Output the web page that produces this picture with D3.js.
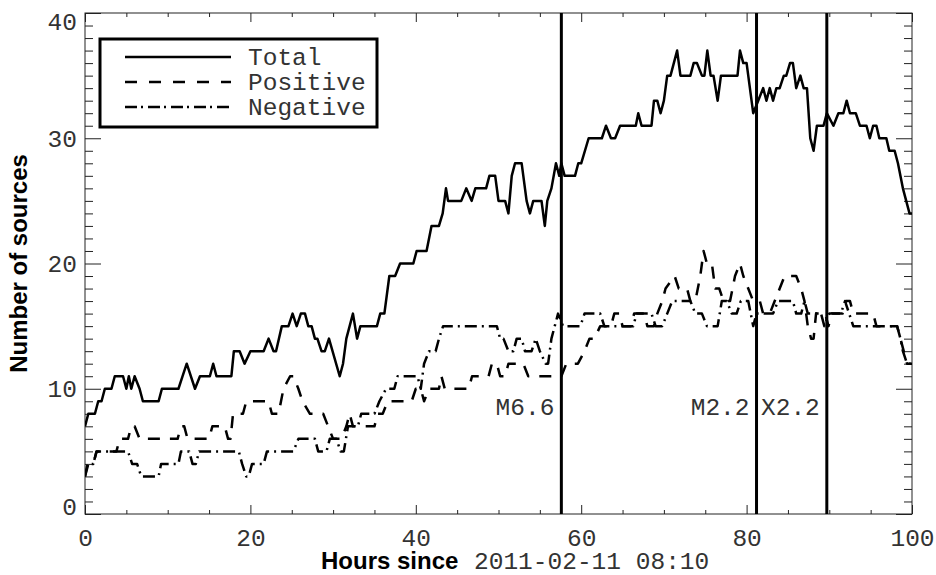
<!DOCTYPE html>
<html><head><meta charset="utf-8">
<script src="https://cdn.jsdelivr.net/npm/d3@7"></script>
<style>
body{margin:0;background:#fff;}
svg{display:block;}
</style></head>
<body>
<svg id="chart" width="936" height="575"></svg>
<script>
// ---- data (hours since start, number of sources) ----
const totalSeries = [[0,7],[0.4,8],[1.2,8],[1.6,9],[2.0,9],[2.4,10],[3.2,10],[3.6,11],[4.6,11],[5.0,10],[5.3,11],[5.6,10],[6.0,11],[6.6,10],[7.0,9],[8.9,9],[9.3,10],[11.3,10],[11.8,11],[12.3,12],[13.3,10],[13.9,11],[15.1,11],[15.5,12],[15.9,11],[17.7,11],[18.0,13],[18.7,13],[19.3,12],[20.0,13],[21.6,13],[22.2,14],[22.8,13],[23.1,13],[23.8,15],[24.6,15],[25.1,16],[25.6,15],[26.1,16],[26.6,16],[27.0,15],[27.4,15],[27.8,14],[28.1,14],[28.6,13],[29.0,13],[29.5,14],[30.8,11],[31.2,12],[31.6,14],[32.4,16],[32.9,14],[33.3,15],[35.3,15],[35.7,16],[36.2,16],[36.8,19],[37.5,19],[38.1,20],[39.7,20],[40.1,21],[41.3,21],[41.9,23],[42.8,23],[43.25,24],[43.65,26],[43.9,25],[45.5,25],[46.1,26],[46.75,25],[47.2,26],[48.5,26],[48.9,27],[49.6,27],[50.0,25],[50.8,25],[51.2,24],[51.6,27],[52.0,28],[52.8,28],[53.4,25],[53.8,24],[54.2,25],[55.2,25],[55.6,23],[55.9,25],[56.4,26],[56.95,28],[57.35,27],[57.6,28],[58.0,27],[59.25,27],[59.65,28],[60.0,28],[60.9,30],[62.5,30],[63.0,31],[63.6,30],[64.1,30],[64.7,31],[66.6,31],[66.9,32],[67.3,31],[68.5,31],[68.8,33],[69.2,33],[69.6,32],[70.0,33],[70.4,35],[70.8,35],[71.6,37],[72.0,35],[73.2,35],[73.6,36],[74.0,36],[74.6,35],[74.9,35],[75.25,37],[75.65,35],[76.0,35],[76.5,33],[76.9,35],[78.9,35],[79.2,37],[79.6,36],[80.0,36],[80.8,32],[81.4,33],[82.0,34],[82.4,33],[82.8,34],[83.2,33],[83.6,34],[84.0,34],[84.5,35],[84.8,35],[85.25,36],[85.6,36],[86.0,34],[86.5,35],[86.9,34],[87.3,34],[87.7,30],[88.1,29],[88.5,31],[89.3,31],[89.7,32],[90.5,31],[91.1,32],[91.7,32],[92.1,33],[92.5,32],[93.2,32],[93.7,31],[94.5,31],[94.9,30],[95.3,31],[95.7,31],[96.05,30],[96.9,30],[97.25,29],[97.9,29],[98.3,28],[98.9,26],[99.7,24],[100,24]];

const positiveSeries = [[0,3],[0.4,4],[1.0,4],[1.4,5],[3.8,5],[4.2,6],[5.2,6],[5.6,7],[6.0,7],[6.6,6],[11.2,6],[11.6,7],[12.0,7],[12.4,6],[15.0,6],[15.4,7],[16.9,7],[17.3,6],[17.6,6],[17.9,8],[19.1,8],[19.5,9],[22.2,9],[22.6,8],[23.4,8],[24.0,10],[24.8,11],[25.2,11],[25.8,10],[26.3,9],[27.2,8],[28.8,8],[29.4,7],[30.0,6],[31.0,6],[31.6,7],[32.0,8],[32.4,7],[35.0,7],[35.4,8],[36.0,8],[36.6,9],[39.5,9],[40.0,10],[40.6,10],[41.0,9],[41.6,10],[42.8,10],[43.1,11],[43.5,10],[46.4,10],[46.8,11],[48.8,11],[49.2,12],[49.8,12],[50.2,11],[50.8,11],[51.2,12],[53.0,12],[53.6,11],[57.6,11],[58.2,12],[59.6,12],[60.4,13],[61.0,14],[61.6,14],[62.3,15],[63.6,15],[64.0,16],[64.6,16],[65.0,15],[66.0,15],[66.4,16],[67.6,16],[68.0,15],[68.8,15],[69.2,16],[69.8,17],[70.2,18],[71.3,19],[71.8,18],[72.8,18],[73.2,17],[73.8,17],[74.4,19],[74.8,21],[75.2,20],[75.8,20],[76.2,18],[76.7,18],[77.2,17],[78.0,17],[78.6,19],[79.2,20],[79.6,19],[80.2,18],[80.8,17],[81.6,17],[82.0,16],[82.8,16],[83.4,17],[84.0,18],[84.6,19],[86.0,19],[86.6,18],[87.0,17],[87.4,15],[87.8,14],[88.1,14],[88.4,16],[89.5,16],[89.9,15],[90.3,16],[91.6,16],[92.0,17],[92.5,17],[92.9,16],[95.3,16],[95.7,15],[98.2,15],[98.6,14],[99.0,13],[99.4,12],[100,12]];

const negativeSeries = [[0,3],[0.3,4],[1.0,4],[1.4,5],[5.2,5],[5.7,4],[6.3,4],[6.8,3],[8.9,3],[9.2,4],[11.3,4],[11.6,5],[12.6,5],[13.0,4],[13.4,4],[13.8,5],[18.6,5],[19.0,4],[19.5,3],[19.8,3],[20.2,4],[21.6,4],[22.0,5],[25.2,5],[25.8,6],[27.8,6],[28.2,5],[29.2,5],[29.6,6],[30.4,6],[30.9,5],[31.3,5],[31.8,7],[33.0,7],[33.4,8],[35.0,8],[35.6,9],[36.4,10],[37.4,10],[37.8,11],[40.2,11],[40.6,10],[41.0,12],[41.6,13],[42.4,13],[42.8,14],[43.3,15],[49.8,15],[50.2,14],[50.6,14],[51.2,13],[51.8,13],[52.2,14],[52.8,14],[53.2,13],[54.0,13],[54.5,14],[55.0,13],[55.7,12],[56.0,12],[56.4,14],[56.8,15],[57.2,16],[57.8,15],[59.9,15],[60.4,16],[62.3,16],[62.8,15],[66.3,15],[66.7,16],[68.5,16],[69.0,15],[69.8,15],[70.4,16],[71.0,17],[73.2,17],[73.8,16],[74.6,16],[75.2,15],[76.5,15],[77.0,17],[77.6,17],[78.2,16],[78.8,16],[79.3,17],[80.2,17],[80.8,15],[81.2,16],[83.2,16],[83.8,17],[85.6,17],[86.0,16],[86.6,16],[87.0,17],[87.4,16],[89.0,16],[89.4,15],[90.0,16],[91.4,16],[91.9,17],[92.4,16],[92.9,15],[98.2,15],[98.6,14],[98.9,13],[99.4,12],[100,12]];

const flareHours = [57.6, 81.2, 89.7];
const flareLabels = ["M6.6", "M2.2", "X2.2"];
const flareLabelLevel = 8.55;
const legendNames = ["Total", "Positive", "Negative"];
const xMajorTicks = [0, 20, 40, 60, 80, 100];
const xMinorTicks = [5,10,15,25,30,35,45,50,55,65,70,75,85,90,95];
const yMajorTicks = [0, 10, 20, 30, 40];
const yMinorTicks = d3.range(1, 40).filter(v => v % 10 !== 0);

// ---- layout ----
const svg = d3.select("#chart");
const L = 85, R = 912, T = 13, B = 514;
const x = d3.scaleLinear().domain([0, 100]).range([L, R]);
const y = d3.scaleLinear().domain([0, 40]).range([B, T]);
const mono = "'Liberation Mono','Courier New',monospace";
const sans = "'Liberation Sans',Arial,Helvetica,sans-serif";
const fs = 24.5;
const textColor = "#333";
const axisColor = "#222";

function styleAxis(g) {
  g.select(".domain").remove();
  g.selectAll(".tick line").attr("stroke", axisColor).attr("stroke-width", 1);
  g.selectAll(".tick text").attr("font-family", mono).attr("font-size", fs).attr("fill", textColor);
}

// bottom axis with labels
svg.append("g").attr("transform", `translate(0,${B})`)
  .call(d3.axisBottom(x).tickValues(xMajorTicks).tickSizeInner(-9).tickSizeOuter(0).tickPadding(15).tickFormat(d3.format("d")))
  .call(styleAxis);
svg.append("g").attr("transform", `translate(0,${B})`)
  .call(d3.axisBottom(x).tickValues(xMinorTicks).tickSizeInner(-4).tickSizeOuter(0).tickFormat(""))
  .call(styleAxis);
// top axis ticks
svg.append("g").attr("transform", `translate(0,${T})`)
  .call(d3.axisTop(x).tickValues(xMajorTicks).tickSizeInner(-9).tickSizeOuter(0).tickFormat(""))
  .call(styleAxis);
svg.append("g").attr("transform", `translate(0,${T})`)
  .call(d3.axisTop(x).tickValues(xMinorTicks).tickSizeInner(-4).tickSizeOuter(0).tickFormat(""))
  .call(styleAxis);
// left axis
const yAxisG = svg.append("g").attr("transform", `translate(${L},0)`)
  .call(d3.axisLeft(y).tickValues(yMajorTicks).tickSizeInner(-16).tickSizeOuter(0).tickPadding(8).tickFormat(d3.format("d")))
  .call(styleAxis);
yAxisG.selectAll(".tick text").attr("dy", d => d === 0 ? "0.04em" : d === 40 ? "0.68em" : "0.32em");
svg.append("g").attr("transform", `translate(${L},0)`)
  .call(d3.axisLeft(y).tickValues(yMinorTicks).tickSizeInner(-8).tickSizeOuter(0).tickFormat(""))
  .call(styleAxis);
// right axis
svg.append("g").attr("transform", `translate(${R},0)`)
  .call(d3.axisRight(y).tickValues(yMajorTicks).tickSizeInner(-16).tickSizeOuter(0).tickFormat(""))
  .call(styleAxis);
svg.append("g").attr("transform", `translate(${R},0)`)
  .call(d3.axisRight(y).tickValues(yMinorTicks).tickSizeInner(-8).tickSizeOuter(0).tickFormat(""))
  .call(styleAxis);

// frame
svg.append("rect").attr("x", L).attr("y", T).attr("width", R - L).attr("height", B - T)
  .attr("fill", "none").attr("stroke", axisColor).attr("stroke-width", 1);

// ---- data lines ----
const line = d3.line().x(d => x(d[0])).y(d => y(d[1]));
const styles = [
  { data: totalSeries, dash: null },
  { data: positiveSeries, dash: "12,10" },
  { data: negativeSeries, dash: "12,5,2,5" }
];
svg.append("clipPath").attr("id", "plotclip")
  .append("rect").attr("x", L).attr("y", T).attr("width", R - L).attr("height", B - T);
styles.forEach(s => {
  svg.append("path").datum(s.data).attr("d", line)
    .attr("fill", "none").attr("stroke", "#000").attr("stroke-width", 2.5)
    .attr("stroke-linejoin", "round")
    .attr("stroke-dasharray", s.dash)
    .attr("clip-path", "url(#plotclip)");
});

// ---- flare lines and labels ----
flareHours.forEach((h, i) => {
  svg.append("line").attr("x1", x(h)).attr("x2", x(h)).attr("y1", T).attr("y2", B)
    .attr("stroke", "#000").attr("stroke-width", 3);
  svg.append("text").attr("x", x(h) - 7).attr("y", y(flareLabelLevel)).attr("dy", "0.32em")
    .attr("text-anchor", "end").attr("font-family", mono).attr("font-size", fs).attr("fill", textColor)
    .text(flareLabels[i]);
});

// ---- legend ----
const lg = svg.append("g");
lg.append("rect").attr("x", 100).attr("y", 39).attr("width", 277).attr("height", 88)
  .attr("fill", "#fff").attr("stroke", "#000").attr("stroke-width", 3);
const legendDash = [null, "12,12", "12,4,2,5"];
legendNames.forEach((name, i) => {
  const yy = 57 + i * 25;
  lg.append("line").attr("x1", 125).attr("x2", 231).attr("y1", yy).attr("y2", yy)
    .attr("stroke", "#000").attr("stroke-width", 2.5).attr("stroke-dasharray", legendDash[i]);
  lg.append("text").attr("x", 248).attr("y", yy).attr("dy", "0.32em")
    .attr("font-family", mono).attr("font-size", fs).attr("fill", textColor).text(name);
});

// ---- axis titles ----
svg.append("text").attr("x", 321).attr("y", 569)
  .attr("font-family", sans).attr("font-weight", "bold").attr("font-size", 24).attr("fill", "#000")
  .text("Hours since");
svg.append("text").attr("x", 474).attr("y", 569)
  .attr("font-family", mono).attr("font-size", fs).attr("fill", textColor)
  .text("2011-02-11 08:10");

svg.append("text").attr("transform", `translate(27,${(T + B) / 2}) rotate(-90)`)
  .attr("text-anchor", "middle").attr("font-family", sans).attr("font-weight", "bold").attr("font-size", 24)
  .attr("fill", "#000").text("Number of sources");
</script>
</body></html>
